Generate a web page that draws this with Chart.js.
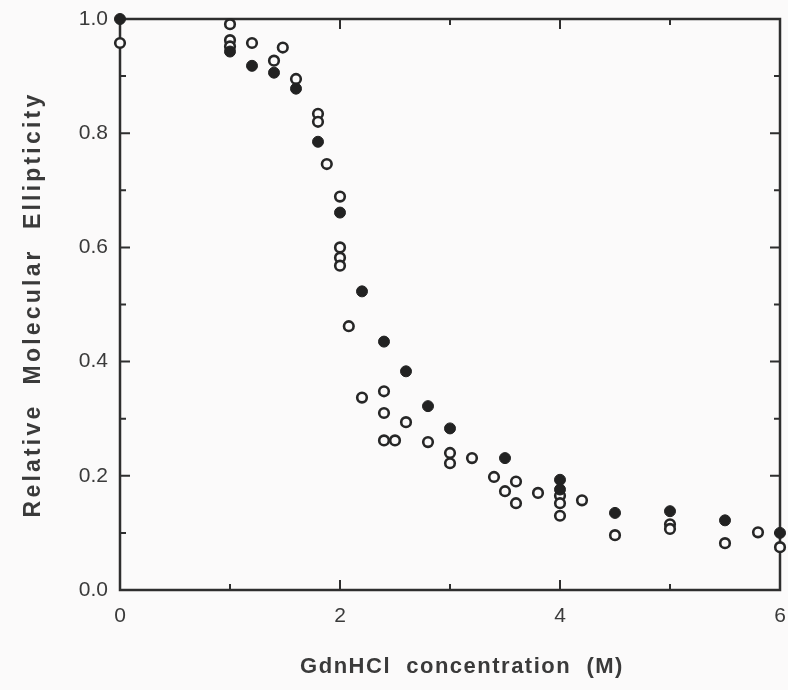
<!DOCTYPE html>
<html>
<head>
<meta charset="utf-8">
<script src="https://cdn.jsdelivr.net/npm/chart.js@4.4.1/dist/chart.umd.min.js"></script>
<style>
  html, body { margin: 0; padding: 0; background: #fbfafa; }
</style>
</head>
<body>
<canvas id="myChart" width="788" height="690"></canvas>
<script>
// filled circles
const filledX = [0, 1.0, 1.2, 1.4, 1.6, 1.8, 2.0, 2.2, 2.4, 2.6, 2.8, 3.0, 3.5, 4.0, 4.0, 4.5, 5.0, 5.5, 6.0];
const filledY = [1.0, 0.943, 0.918, 0.906, 0.878, 0.785, 0.661, 0.523, 0.435, 0.383, 0.322, 0.283, 0.231, 0.193, 0.176, 0.135, 0.138, 0.122, 0.10];

// open circles
const openX = [0, 1.0, 1.0, 1.0, 1.2, 1.4, 1.48, 1.6, 1.8, 1.8, 1.88, 2.0, 2.0, 2.0, 2.0, 2.08, 2.2,
  2.4, 2.4, 2.4, 2.5, 2.6, 2.8, 3.0, 3.0, 3.2, 3.4, 3.5, 3.6, 3.6, 3.8, 4.0, 4.0, 4.0, 4.2,
  4.5, 5.0, 5.0, 5.5, 5.8, 6.0];
const openY = [0.958, 0.991, 0.963, 0.952, 0.958, 0.927, 0.95, 0.895, 0.834, 0.82, 0.746, 0.689, 0.6, 0.582, 0.568, 0.462, 0.337,
  0.348, 0.31, 0.262, 0.262, 0.294, 0.259, 0.24, 0.222, 0.231, 0.198, 0.173, 0.19, 0.152, 0.17, 0.165, 0.152, 0.13, 0.157,
  0.096, 0.115, 0.107, 0.082, 0.101, 0.075];

// tick marks (labels come from the axes)
const xTickMarks = [0, 1, 2, 3, 4, 5, 6];
const yTickMarks = [0, 0.1, 0.2, 0.3, 0.4, 0.5, 0.6, 0.7, 0.8, 0.9, 1.0];

const xTitle = "GdnHCl  concentration  (M)";
const yTitle = "Relative  Molecular  Ellipticity";

const ink = "#2e2e2e";
const textCol = "#3a3a3a";

const toPoints = (xs, ys) => xs.map((x, i) => ({ x: x, y: ys[i] }));

// frame with inward ticks on all four sides, plus spaced axis titles
const framePlugin = {
  id: "frame",
  beforeDatasetsDraw(chart) {
    const { ctx, chartArea: a, scales } = chart;
    ctx.save();
    ctx.strokeStyle = ink;
    ctx.lineWidth = 2.5;
    ctx.strokeRect(a.left, a.top, a.right - a.left, a.bottom - a.top);
    ctx.lineWidth = 2;
    ctx.beginPath();
    xTickMarks.forEach((v) => {
      const px = scales.x.getPixelForValue(v);
      const len = v % 2 === 0 ? 10 : 6;
      ctx.moveTo(px, a.bottom);
      ctx.lineTo(px, a.bottom - len);
      ctx.moveTo(px, a.top);
      ctx.lineTo(px, a.top + len);
    });
    yTickMarks.forEach((v, i) => {
      const py = scales.y.getPixelForValue(v);
      const len = i % 2 === 0 ? 10 : 6;
      ctx.moveTo(a.left, py);
      ctx.lineTo(a.left + len, py);
      ctx.moveTo(a.right, py);
      ctx.lineTo(a.right - len, py);
    });
    ctx.stroke();
    ctx.restore();
  },
  afterDraw(chart) {
    const { ctx, chartArea: a } = chart;
    ctx.save();
    ctx.fillStyle = textCol;
    ctx.textAlign = "center";
    ctx.textBaseline = "middle";
    ctx.font = "bold 22px 'Liberation Sans', Arial, sans-serif";
    ctx.letterSpacing = "1.5px";
    ctx.fillText(xTitle, (a.left + a.right) / 2 + 12, 667);
    ctx.translate(34, (a.top + a.bottom) / 2);
    ctx.rotate(-Math.PI / 2);
    ctx.font = "bold 23px 'Liberation Sans', Arial, sans-serif";
    ctx.letterSpacing = "3.2px";
    ctx.fillText(yTitle, 0, 0);
    ctx.restore();
  },
};

const tickFont = { family: "'Liberation Sans', Arial, sans-serif", size: 21 };

const cfg = {
  type: "scatter",
  data: {
    datasets: [
      {
        label: "filled",
        data: toPoints(filledX, filledY),
        pointRadius: 5.5,
        pointBackgroundColor: "#222",
        pointBorderColor: "#222",
        pointBorderWidth: 1,
        clip: false,
      },
      {
        label: "open",
        data: toPoints(openX, openY),
        pointRadius: 4.8,
        pointBackgroundColor: "#fbfafa",
        pointBorderColor: "#262626",
        pointBorderWidth: 2.6,
        clip: false,
      },
    ],
  },
  options: {
    responsive: false,
    animation: false,
    layout: { padding: { left: 0, top: 19, right: 8, bottom: 0 } },
    plugins: { legend: { display: false }, tooltip: { enabled: false } },
    scales: {
      x: {
        type: "linear",
        min: 0,
        max: 6,
        grid: { display: false, drawTicks: false },
        border: { display: false },
        ticks: { stepSize: 2, font: tickFont, color: textCol, padding: 14, maxRotation: 0 },
        afterFit: (s) => { s.height = 100; s.paddingLeft = 0; s.paddingRight = 0; },
      },
      y: {
        min: 0,
        max: 1,
        grid: { display: false, drawTicks: false },
        border: { display: false },
        ticks: {
          stepSize: 0.2,
          font: tickFont,
          color: textCol,
          padding: 12,
          callback: (v) => Number(v).toFixed(1),
        },
        afterFit: (s) => { s.width = 120; s.paddingTop = 0; s.paddingBottom = 0; },
      },
    },
  },
  plugins: [framePlugin],
};

new Chart(document.getElementById("myChart"), cfg);
</script>
</body>
</html>
